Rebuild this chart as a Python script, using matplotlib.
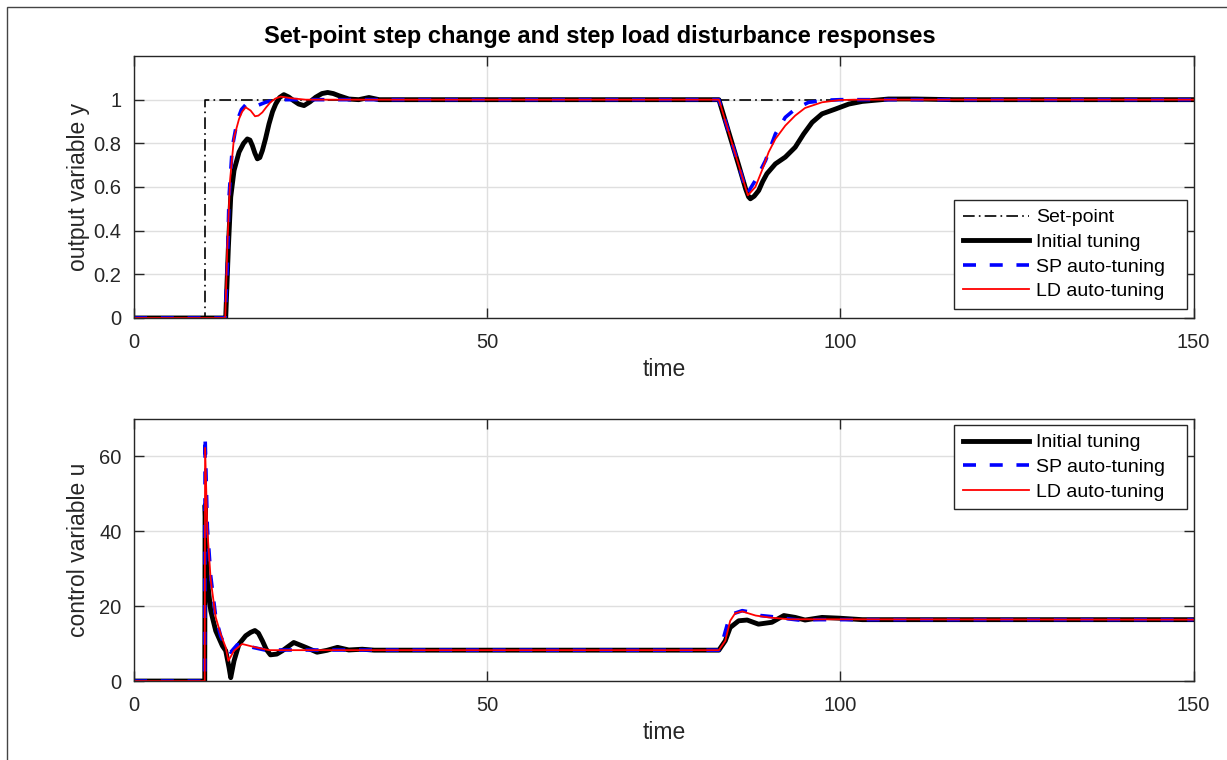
import matplotlib
matplotlib.use("Agg")
import matplotlib.pyplot as plt
from matplotlib.patches import Rectangle

plt.rcParams['font.family'] = ['Liberation Sans', 'DejaVu Sans']

# set-point
t_sp = [0, 10, 10, 150]
y_sp = [0, 0, 1, 1]

# output y - initial tuning
t_y0 = [0, 12.97, 13.35, 13.68, 14.15, 14.86, 15.5, 16.03, 16.4, 16.74, 17.1, 17.45,
        17.8, 18.16, 18.6, 19.1, 19.6, 20.05, 20.6, 21.2, 21.9, 22.6, 23.3, 24.06, 24.9,
        25.7, 26.6, 27.4, 28.2, 29.0, 30.4, 31.8, 33.25, 34.7, 40, 82.8, 84.2,
        85.6, 86.6, 87.0, 87.26, 87.8, 88.44, 89.0, 89.6, 90.8, 92.2, 93.6, 94.8, 96.0,
        97.4, 99.3, 101.2, 103.1, 106.8, 110.6, 116, 150]
y_y0 = [0, 0, 0.326, 0.554, 0.676, 0.76, 0.80, 0.82, 0.815, 0.79, 0.755, 0.729,
        0.735, 0.767, 0.82, 0.889, 0.945, 0.98, 1.01, 1.023, 1.012, 0.995, 0.98, 0.973, 0.99,
        1.011, 1.028, 1.033, 1.028, 1.018, 1.003, 1.0, 1.01, 1.0, 1.0, 1.0, 0.85,
        0.70, 0.59, 0.555, 0.546, 0.558, 0.584, 0.625, 0.661, 0.706, 0.737, 0.782, 0.843,
        0.896, 0.935, 0.957, 0.98, 0.992, 1.003, 1.003, 1.0, 1.0]

# output y - SP auto-tuning
t_y1 = [0, 12.9, 13.2, 13.44, 13.9, 14.6, 15.2, 15.8, 16.6, 17.45, 18.6, 20.0, 82.8,
        84.2, 85.6, 86.8, 87.96, 89.4, 90.8, 92.2, 93.6, 95.5, 98.3, 100, 150]
y_y1 = [0, 0, 0.234, 0.554, 0.782, 0.904, 0.955, 0.977, 0.976, 0.973, 0.988, 1.0, 1.0,
        0.85, 0.70, 0.569, 0.63, 0.721, 0.843, 0.919, 0.957, 0.988, 0.998, 1.0, 1.0]

# output y - LD auto-tuning
t_y2 = [0, 12.9, 13.2, 13.58, 14.15, 14.86, 15.3, 15.8, 16.5, 17.12, 17.6, 18.16, 18.7,
        19.3, 20.0, 20.76, 22.4, 24.3, 82.8, 84.2, 85.6, 86.9, 87.96, 88.9, 89.85, 90.8,
        92.2, 93.6, 95.0, 97.4, 99.8, 102, 150]
y_y2 = [0, 0, 0.326, 0.63, 0.828, 0.912, 0.945, 0.965, 0.95, 0.924, 0.927, 0.942, 0.965,
        0.988, 1.005, 1.014, 1.006, 1.0, 1.0, 0.85, 0.70, 0.562, 0.6, 0.676, 0.76, 0.82,
        0.881, 0.927, 0.962, 0.988, 0.998, 1.0, 1.0]

# control u - initial tuning
t_u0 = [0, 10, 10.05, 10.37, 10.85, 11.56, 12.5, 12.97, 13.44, 13.68, 14.15, 14.86,
        15.8, 16.5, 17.1, 17.6, 18.16, 18.7, 19.3, 20.2, 21.0, 22.6, 24.3, 25.9, 27.3,
        28.8, 30.4, 32.3, 34, 82.8, 83.7, 84.4, 85.6, 86.8, 88.4, 90.3, 92.0, 93.6,
        95.0, 97.4, 99.8, 103.1, 150]
u_u0 = [0, 0, 47, 27, 18.8, 13.4, 9.4, 8.1, 3.6, 0.9, 5.4, 9.9,
        12.1, 13.0, 13.5, 12.8, 10.75, 8.5, 7.0, 7.2, 8.1, 10.3, 9.0, 7.7, 8.2,
        9.0, 8.3, 8.5, 8.25, 8.25, 10.75, 14.3, 16.1, 16.3, 15.2, 15.7, 17.5, 17.0,
        16.3, 17.0, 16.8, 16.4, 16.4]

# control u - SP auto-tuning
t_u1 = [0, 10, 10.05, 10.37, 10.85, 11.56, 12.26, 12.97, 13.44, 13.68, 14.6, 15.5,
        16.8, 18.5, 82.8, 83.3, 84.0, 84.7, 86.1, 87.3, 88.7, 90.3, 92.7, 94.1, 97, 150]
u_u1 = [0, 0, 65.4, 41, 28, 17, 12, 9, 8.1, 7.7, 9.7, 9.8,
        9.0, 8.3, 8.25, 10.5, 15.2, 17.9, 18.8, 18.4, 17.5, 17.2, 16.6, 16.3, 16.4, 16.4]

# control u - LD auto-tuning
t_u2 = [0, 10, 10.05, 10.37, 10.85, 11.56, 12.26, 12.97, 13.35, 14.15, 15.3, 17.2,
        19.1, 82.8, 83.7, 84.4, 85.1, 86.1, 88.0, 89.85, 92.7, 150]
u_u2 = [0, 0, 62.3, 40.3, 26.9, 17, 12.5, 9.0, 5.4, 8.1, 9.9, 9.0,
        8.25, 8.25, 10.75, 16.1, 18.1, 18.6, 17.5, 17.0, 16.5, 16.4]

fig = plt.figure(figsize=(12.27, 7.6), dpi=100)
ax1 = fig.add_axes([0.1093, 0.5816, 0.8634, 0.3447])
ax2 = fig.add_axes([0.1093, 0.1039, 0.8634, 0.3447])

# thin frame of the figure window
fig.add_artist(Rectangle((7 / 1227, -0.1), 1.1, 1.1 - 7 / 760,
                         transform=fig.transFigure, fill=False,
                         edgecolor='#444444', lw=1.0))

sp_kw = dict(color='black', lw=1.2, dashes=(7, 2.5, 1, 2.5))
init_kw = dict(color='black', lw=3.5)
sp_auto_kw = dict(color='blue', lw=2.6, dashes=(3.6, 3.8))
ld_kw = dict(color='red', lw=1.3)

ax1.plot(t_sp, y_sp, label='Set-point', **sp_kw)
ax1.plot(t_y0, y_y0, label='Initial tuning', **init_kw)
ax1.plot(t_y1, y_y1, label='SP auto-tuning', **sp_auto_kw)
ax1.plot(t_y2, y_y2, label='LD auto-tuning', **ld_kw)

ax2.plot(t_u0, u_u0, label='Initial tuning', **init_kw)
ax2.plot(t_u1, u_u1, label='SP auto-tuning', **sp_auto_kw)
ax2.plot(t_u2, u_u2, label='LD auto-tuning', **ld_kw)

ax1.set_xlim(0, 150)
ax1.set_ylim(0, 1.2)
ax1.set_yticks([0, 0.2, 0.4, 0.6, 0.8, 1])
ax1.set_yticklabels(['0', '0.2', '0.4', '0.6', '0.8', '1'])
ax2.set_xlim(0, 150)
ax2.set_ylim(0, 70)
ax2.set_yticks([0, 20, 40, 60])

for ax in (ax1, ax2):
    ax.set_xticks([0, 50, 100, 150])
    ax.grid(True, color='#dfdfdf', lw=1.0)
    ax.set_axisbelow(True)
    ax.tick_params(direction='in', length=7.5, width=1.0, color='#262626',
                   labelsize=14.5, labelcolor='#262626', top=True, right=True)
    ax.tick_params(axis='x', pad=11)
    ax.tick_params(axis='y', pad=9)
    for s in ax.spines.values():
        s.set_color('#262626')
        s.set_linewidth(1.0)
    ax.set_xlabel('time', fontsize=16.5, color='#262626', labelpad=4)

ax1.set_ylabel('output variable y', fontsize=16.5, color='#262626')
ax2.set_ylabel('control variable u', fontsize=16.5, color='#262626')
ax1.yaxis.set_label_coords(-0.042, 0.5)
ax2.yaxis.set_label_coords(-0.042, 0.5)

leg_kw = dict(fontsize=14, frameon=True, fancybox=False, edgecolor='#262626',
              framealpha=1.0, handlelength=3.4, handletextpad=0.35, borderpad=0.45,
              labelspacing=0.36, borderaxespad=0.0, mode='expand')
l1 = ax1.legend(loc='lower left', bbox_to_anchor=(0.7742, 0.0344, 0.2199, 0.41), **leg_kw)
l2 = ax2.legend(loc='upper left', bbox_to_anchor=(0.7742, 0.6565, 0.2199, 0.3206), **leg_kw)
for lg in (l1, l2):
    lg.get_frame().set_linewidth(1.0)

fig.text(600 / 1227, 1 - 37 / 760,
         'Set-point step change and step load disturbance responses',
         ha='center', va='center', fontsize=17, fontweight='bold')

fig.savefig('out.png', dpi=100)
